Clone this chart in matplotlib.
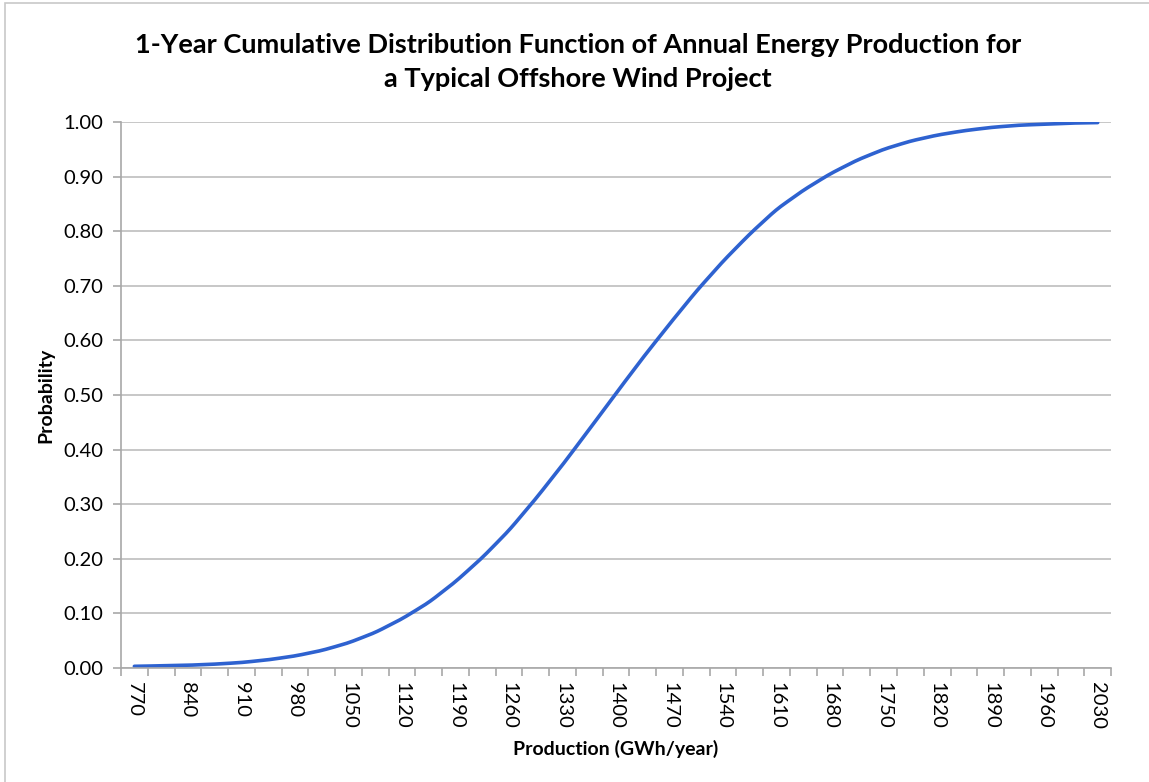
import matplotlib.pyplot as plt
import numpy as np
from matplotlib.patches import Rectangle

plt.rcParams['font.family'] = ['Lato', 'DejaVu Sans']

## Data (category axis, one point every 35 GWh)
production = list(range(770, 2031, 35))
probability = [0.003, 0.004, 0.005, 0.007, 0.010, 0.015, 0.022, 0.032, 0.046,
               0.065, 0.090, 0.120, 0.158, 0.202, 0.252, 0.310, 0.372, 0.437,
               0.503, 0.568, 0.630, 0.690, 0.745, 0.795, 0.840, 0.875, 0.905,
               0.930, 0.950, 0.965, 0.976, 0.984, 0.990, 0.994, 0.996, 0.998,
               0.999]
yticks = [0.0, 0.1, 0.2, 0.3, 0.4, 0.5, 0.6, 0.7, 0.8, 0.9, 1.0]

title = "1-Year Cumulative Distribution Function of Annual Energy Production for\na Typical Offshore Wind Project"

fig = plt.figure(figsize=(11.49, 7.82), dpi=100)
ax = fig.add_axes([0.1053, 0.1458, 0.8617, 0.6982])

# outer chart frame
fig.patches.append(Rectangle((0.004, -0.01), 1.2, 1.006, transform=fig.transFigure,
                             fill=False, edgecolor='#c8c8c8', lw=1.2))

idx = np.arange(len(production))
# smooth line like excel
xs = np.linspace(0, len(idx) - 1, 600)
ys = np.interp(xs, idx, probability)
k = np.ones(9) / 9
ys_s = np.convolve(np.pad(ys, 4, mode='edge'), k, mode='valid')
ax.plot(xs, ys_s, color='#2e62d0', lw=2.6, solid_capstyle='round')

ax.set_xlim(-0.5, len(idx) - 0.5)
ax.set_ylim(0, 1.0)
ax.set_yticks(yticks)
ax.set_yticklabels(['%.2f' % v for v in yticks])
ax.grid(axis='y', color='#bdbdbd', lw=1.2)
ax.set_axisbelow(True)

ax.set_xticks(idx[::2])
ax.set_xticklabels([str(p) for p in production[::2]], rotation=-90)
ax.set_xticks(np.arange(-0.5, len(idx)), minor=True)
ax.tick_params(axis='x', which='major', length=0, pad=10, labelsize=14.5)
ax.tick_params(axis='x', which='minor', length=6, color='#a8a8a8', width=1.2)
ax.tick_params(axis='y', length=6, color='#a8a8a8', width=1.2, labelsize=14.5, pad=7)

for s in ['top', 'right']:
    ax.spines[s].set_visible(False)
for s in ['left', 'bottom']:
    ax.spines[s].set_color('#a8a8a8')
    ax.spines[s].set_linewidth(1.2)

ax.set_xlabel('Production (GWh/year)', fontsize=14, fontweight='bold', labelpad=8)
ax.set_ylabel('Probability', fontsize=14, fontweight='bold', labelpad=6)
fig.text(0.503, 0.921, title, ha='center', va='center', fontsize=19.5,
         fontweight='bold', linespacing=1.5)

fig.savefig('out.png', dpi=100)
